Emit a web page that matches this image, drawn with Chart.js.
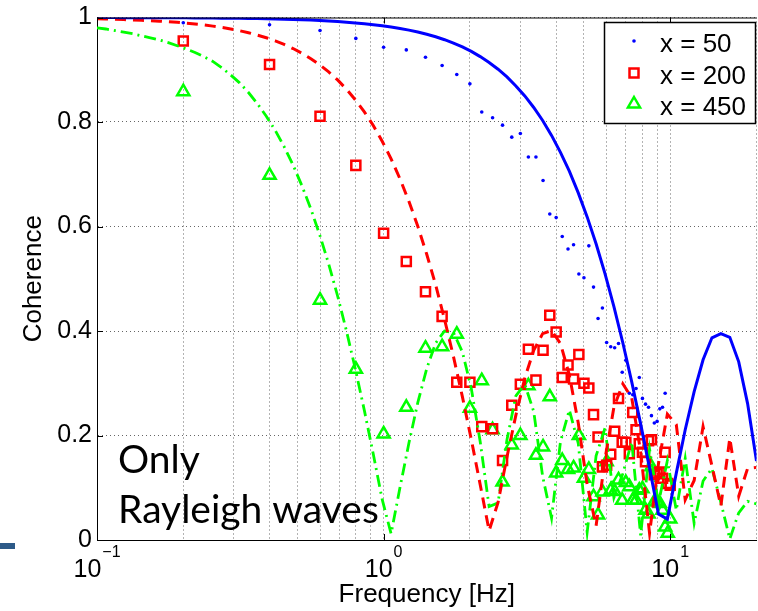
<!DOCTYPE html>
<html>
<head>
<meta charset="utf-8">
<script src="https://cdn.jsdelivr.net/npm/chart.js@4.4.0/dist/chart.umd.min.js"></script>
<style>
  html, body { margin: 0; padding: 0; background: #fff; overflow: hidden; }
  #wrap { position: relative; width: 758px; height: 611px; overflow: hidden; }
  #chart { position: absolute; left: 0; top: 0; }
  #bar { position: absolute; left: 0; top: 543px; width: 15px; height: 6px; background: #2d5a88; }
</style>
</head>
<body>
<div id="wrap">
  <canvas id="chart" width="766" height="611"></canvas>
  <div id="bar"></div>
</div>
<script>
// theoretical curves (log spaced frequencies, Hz)
const thFreq = [0.1, 0.1074, 0.1154, 0.124, 0.1331, 0.143, 0.1536, 0.1651, 0.1773, 0.1905,
  0.2046, 0.2198, 0.2361, 0.2536, 0.2724, 0.2927, 0.3144, 0.3377, 0.3628, 0.3897,
  0.4186, 0.4497, 0.4831, 0.5189, 0.5574, 0.5988, 0.6432, 0.691, 0.7423, 0.7974,
  0.8566, 0.9203, 0.9886, 1.062, 1.141, 1.226, 1.316, 1.414, 1.519, 1.632,
  1.753, 1.883, 2.023, 2.173, 2.334, 2.508, 2.694, 2.894, 3.109, 3.34,
  3.588, 3.854, 4.14, 4.446, 4.777, 5.131, 5.512, 5.921, 6.361, 6.833,
  7.34, 7.885, 8.47, 9.099, 9.774, 10.5, 11.28, 12.12, 13.02, 13.98,
  15.02, 16.14, 17.34, 18.62, 20.0];

const theory50 = [1.0, 1.0, 0.9998, 0.9997, 0.9997, 0.9997, 0.9996, 0.9996, 0.9995, 0.9994,
  0.9993, 0.9992, 0.9991, 0.999, 0.9988, 0.9986, 0.9984, 0.9982, 0.9979, 0.9975,
  0.9972, 0.9967, 0.9962, 0.9957, 0.995, 0.9942, 0.9933, 0.9923, 0.9911, 0.9897,
  0.9882, 0.9863, 0.9843, 0.9818, 0.979, 0.9758, 0.9721, 0.9679, 0.9631, 0.9575,
  0.951, 0.9436, 0.9351, 0.9252, 0.914, 0.901, 0.8862, 0.869, 0.8499, 0.8278,
  0.8029, 0.7744, 0.742, 0.7058, 0.6643, 0.6184, 0.5669, 0.5097, 0.4465, 0.3775,
  0.3026, 0.2223, 0.1375, 0.0496, 0.040, 0.128, 0.211, 0.284, 0.345, 0.387,
  0.395, 0.388, 0.341, 0.261, 0.151];

const theory200 = [0.9974, 0.997, 0.9966, 0.996, 0.9954, 0.9947, 0.9939, 0.993, 0.9919, 0.9907,
  0.9892, 0.9876, 0.9857, 0.9835, 0.981, 0.9781, 0.9747, 0.9708, 0.9663, 0.9612,
  0.9553, 0.9486, 0.9406, 0.9316, 0.9211, 0.9094, 0.8958, 0.8805, 0.8626, 0.8423,
  0.8195, 0.7934, 0.7632, 0.7295, 0.691, 0.6479, 0.6005, 0.5468, 0.4882, 0.422,
  0.351, 0.2743, 0.1922, 0.1059, 0.0179, 0.072, 0.159, 0.239, 0.31, 0.363,
  0.395, 0.401, 0.376, 0.316, 0.224, 0.106, 0.027, 0.155, 0.254, 0.299,
  0.272, 0.169, 0.013, 0.146, 0.241, 0.221, 0.077, 0.114, 0.217, 0.142,
  0.065, 0.195, 0.084, 0.137, 0.139];

const theory450 = [0.98, 0.978, 0.975, 0.972, 0.969, 0.965, 0.961, 0.957, 0.952, 0.946,
  0.94, 0.933, 0.925, 0.916, 0.904, 0.89, 0.8749, 0.8564, 0.8351, 0.8111,
  0.784, 0.7528, 0.7177, 0.6779, 0.6336, 0.5836, 0.5283, 0.467, 0.3997, 0.3266,
  0.248, 0.1645, 0.0776, 0.012, 0.101, 0.186, 0.263, 0.328, 0.377, 0.4,
  0.397, 0.36, 0.29, 0.188, 0.064, 0.071, 0.192, 0.276, 0.298, 0.246,
  0.122, 0.042, 0.188, 0.249, 0.185, 0.015, 0.161, 0.214, 0.081, 0.127,
  0.188, 0.009, 0.174, 0.071, 0.152, 0.057, 0.156, 0.032, 0.113, 0.137,
  0.072, 0.002, 0.052, 0.074, 0.069];

// measured coherence, every 0.2 Hz
const measFreq = [0.2, 0.4, 0.6, 0.8, 1.0, 1.2, 1.4, 1.6, 1.8, 2.0,
  2.2, 2.4, 2.6, 2.8, 3.0, 3.2, 3.4, 3.6, 3.8, 4.0,
  4.2, 4.4, 4.6, 4.8, 5.0, 5.2, 5.4, 5.6, 5.8, 6.0,
  6.2, 6.4, 6.6, 6.8, 7.0, 7.2, 7.4, 7.6, 7.8, 8.0,
  8.2, 8.4, 8.6, 8.8, 9.0, 9.2, 9.4, 9.6, 9.8, 10.0];

const meas50 = [0.99, 0.986, 0.975, 0.96, 0.943, 0.938, 0.924, 0.908, 0.891, 0.873,
  0.819, 0.808, 0.794, 0.771, 0.778, 0.733, 0.733, 0.688, 0.624, 0.617,
  0.581, 0.557, 0.565, 0.509, 0.502, 0.563, 0.484, 0.424, 0.444, 0.378,
  0.37, 0.368, 0.376, 0.321, 0.344, 0.281, 0.278, 0.29, 0.311, 0.271,
  0.26, 0.254, 0.238, 0.224, 0.227, 0.251, 0.254, 0.281, null, null];

const meas200 = [0.955, 0.91, 0.811, 0.717, 0.587, 0.533, 0.475, 0.428, 0.302, 0.302,
  0.217, 0.213, 0.152, 0.258, 0.298, 0.365, 0.306, 0.363, 0.43, 0.398,
  0.311, 0.335, 0.308, 0.355, 0.3, 0.291, 0.24, 0.197, 0.14, 0.143,
  0.164, 0.208, 0.271, 0.187, 0.187, 0.165, 0.244, 0.211, 0.184, 0.168,
  0.15, 0.19, 0.192, 0.125, 0.127, 0.13, 0.118, 0.168, 0.108, 0.105];

const meas450 = [0.858, 0.698, 0.459, 0.327, 0.203, 0.254, 0.367, 0.37, 0.394, 0.252,
  0.305, 0.211, 0.111, 0.182, 0.2, 0.295, 0.162, 0.178, 0.274, 0.128,
  0.152, 0.135, 0.138, 0.2, 0.118, 0.135, 0.083, 0.048, 0.092, 0.15,
  0.095, 0.093, 0.115, 0.076, 0.11, 0.102, 0.076, 0.076, 0.095, 0.098,
  0.057, 0.05, 0.14, 0.073, 0.073, 0.07, 0.057, 0.025, 0.013, 0.04];

const legendLabels = ['x = 50', 'x = 200', 'x = 450'];
const xGridVals = [0.1, 0.2, 0.3, 0.4, 0.5, 0.6, 0.7, 0.8, 0.9, 1, 2, 3, 4, 5, 6, 7, 8, 9, 10, 20];
const xLabelVals = [0.1, 1, 10];
const xLabelExp = ['\u22121', '0', '1'];
const yTickVals = [0, 0.2, 0.4, 0.6, 0.8, 1];

const FONT = '"Liberation Sans", Arial, Helvetica, sans-serif';
const BLUE = '#0000ff', RED = '#ff0000', GREEN = '#00ff00';

// wanted plot box in page pixels
const AREA = {left: 97, top: 15, right: 763, bottom: 540};

const pts = (xs, ys) => xs.map((f, i) => ({x: f, y: ys[i]}));

function marker(ctx, style, x, y) {
  ctx.beginPath();
  if (style === 'dot') {
    ctx.fillStyle = BLUE;
    ctx.arc(x, y, 1.8, 0, Math.PI * 2);
    ctx.fill();
  } else if (style === 'rect') {
    ctx.strokeStyle = RED; ctx.lineWidth = 2.5;
    ctx.rect(x - 4.5, y - 4.5, 9, 9);
    ctx.stroke();
  } else {
    ctx.strokeStyle = GREEN; ctx.lineWidth = 2.5;
    const r = 7;
    ctx.moveTo(x, y - r);
    ctx.lineTo(x + r * 0.866, y + r * 0.5);
    ctx.lineTo(x - r * 0.866, y + r * 0.5);
    ctx.closePath();
    ctx.stroke();
  }
}

const overlay = {
  id: 'overlay',
  afterDraw(chart) {
    const {ctx, chartArea: a, scales: {x, y}} = chart;
    ctx.save();

    // top box line and inward ticks
    ctx.strokeStyle = '#000';
    ctx.lineWidth = 1;
    ctx.beginPath();
    ctx.moveTo(a.left, a.top + 0.5);
    ctx.lineTo(a.right, a.top + 0.5);
    xLabelVals.forEach(v => {
      const px = Math.round(x.getPixelForValue(v)) + 0.5;
      ctx.moveTo(px, a.bottom); ctx.lineTo(px, a.bottom - 6);
      ctx.moveTo(px, a.top); ctx.lineTo(px, a.top + 6);
    });
    yTickVals.forEach(v => {
      const py = Math.round(y.getPixelForValue(v)) + 0.5;
      ctx.moveTo(a.left, py); ctx.lineTo(a.left + 6, py);
    });
    ctx.stroke();

    // x tick labels 10^n
    ctx.fillStyle = '#000';
    ctx.textBaseline = 'alphabetic';
    ctx.textAlign = 'left';
    xLabelVals.forEach((v, i) => {
      const px = x.getPixelForValue(v);
      ctx.font = '25px ' + FONT;
      const wb = ctx.measureText('10').width;
      ctx.font = '16px ' + FONT;
      const we = ctx.measureText(xLabelExp[i]).width;
      const start = px - (wb + 1 + we) / 2;
      ctx.font = '25px ' + FONT;
      ctx.fillText('10', start, 577);
      ctx.font = '16px ' + FONT;
      ctx.fillText(xLabelExp[i], start + wb + 1, 557);
    });

    // legend
    ctx.fillStyle = '#fff';
    ctx.fillRect(604, 22, 152, 102);
    ctx.strokeStyle = '#000';
    ctx.lineWidth = 1.5;
    ctx.strokeRect(604.5, 22.5, 151, 101);
    const rows = [41, 73, 104];
    const styles = ['dot', 'rect', 'tri'];
    const base = [52, 84, 115];
    rows.forEach((ry, i) => {
      marker(ctx, styles[i], 634, ry);
      ctx.fillStyle = '#000';
      ctx.font = '26px ' + FONT;
      ctx.textBaseline = 'alphabetic';
      ctx.fillText(legendLabels[i], 660, base[i]);
    });

    // annotation
    ctx.font = '36px Lato, "Open Sans", sans-serif';
    const w = ctx.measureText('Rayleigh waves').width;
    const fs = 36 * 261 / w;
    ctx.font = fs.toFixed(1) + 'px Lato, "Open Sans", sans-serif';
    ctx.fillStyle = '#000';
    ctx.fillText('Only', 118, 473);
    ctx.fillText('Rayleigh waves', 118, 523);

    ctx.restore();
  }
};

const chart = new Chart(document.getElementById('chart'), {
  type: 'scatter',
  data: {
    datasets: [
      {
        label: 'x = 50 theory', data: pts(thFreq, theory50), showLine: true,
        borderColor: BLUE, borderWidth: 3, pointRadius: 0, tension: 0
      },
      {
        label: 'x = 200 theory', data: pts(thFreq, theory200), showLine: true,
        borderColor: RED, borderWidth: 3, borderDash: [11, 7], pointRadius: 0, tension: 0
      },
      {
        label: 'x = 450 theory', data: pts(thFreq, theory450), showLine: true,
        borderColor: GREEN, borderWidth: 2.8, borderDash: [12, 5, 2, 5], pointRadius: 0, tension: 0
      },
      {
        label: legendLabels[0], data: pts(measFreq, meas50), showLine: false,
        pointStyle: 'circle', pointRadius: 1.8, pointBorderWidth: 0,
        pointBackgroundColor: BLUE, pointBorderColor: BLUE
      },
      {
        label: legendLabels[1], data: pts(measFreq, meas200), showLine: false,
        pointStyle: 'rect', pointRadius: 6.4, pointBorderWidth: 2.5,
        pointBackgroundColor: 'rgba(0,0,0,0)', pointBorderColor: RED
      },
      {
        label: legendLabels[2], data: pts(measFreq, meas450), showLine: false,
        pointStyle: 'triangle', pointRadius: 7, pointBorderWidth: 2.5,
        pointBackgroundColor: 'rgba(0,0,0,0)', pointBorderColor: GREEN
      }
    ]
  },
  options: {
    responsive: false,
    devicePixelRatio: 1,
    animation: false,
    events: [],
    layout: {padding: {left: 0, top: 15, right: 3, bottom: 0}},
    plugins: {legend: {display: false}, tooltip: {enabled: false}},
    scales: {
      x: {
        type: 'logarithmic',
        min: 0.1,
        max: 20,
        afterBuildTicks: s => { s.ticks = xGridVals.map(v => ({value: v})); },
        afterFit: s => { s.height = 71; },
        ticks: {display: false},
        grid: {color: 'rgba(0,0,0,0.6)', lineWidth: 1, drawTicks: false},
        border: {display: true, color: '#000', width: 1, dash: [1, 3]},
        title: {
          display: true, text: 'Frequency [Hz]', color: '#000',
          font: {family: FONT, size: 26}, padding: {top: 0, bottom: 1}
        }
      },
      y: {
        min: 0,
        max: 1,
        afterBuildTicks: s => { s.ticks = yTickVals.map(v => ({value: v})); },
        afterFit: s => { s.width = 97; },
        ticks: {
          color: '#000', padding: 5,
          font: {family: FONT, size: 25, lineHeight: 1},
          callback: v => String(v)
        },
        grid: {color: 'rgba(0,0,0,0.6)', lineWidth: 1, drawTicks: false},
        border: {display: true, color: '#000', width: 1, dash: [1, 3]},
        title: {
          display: true, text: 'Coherence', color: '#000',
          font: {family: FONT, size: 26}, padding: {top: 18, bottom: 0}
        }
      }
    }
  },
  plugins: [overlay]
});

// nudge layout padding so the plot box lands where the reference has it
const pad = chart.options.layout.padding;
const ca = chart.chartArea;
pad.right += ca.right - AREA.right;
pad.top += AREA.top - ca.top;
pad.left += AREA.left - ca.left;
pad.bottom += ca.bottom - AREA.bottom;
chart.update();
</script>
</body>
</html>
